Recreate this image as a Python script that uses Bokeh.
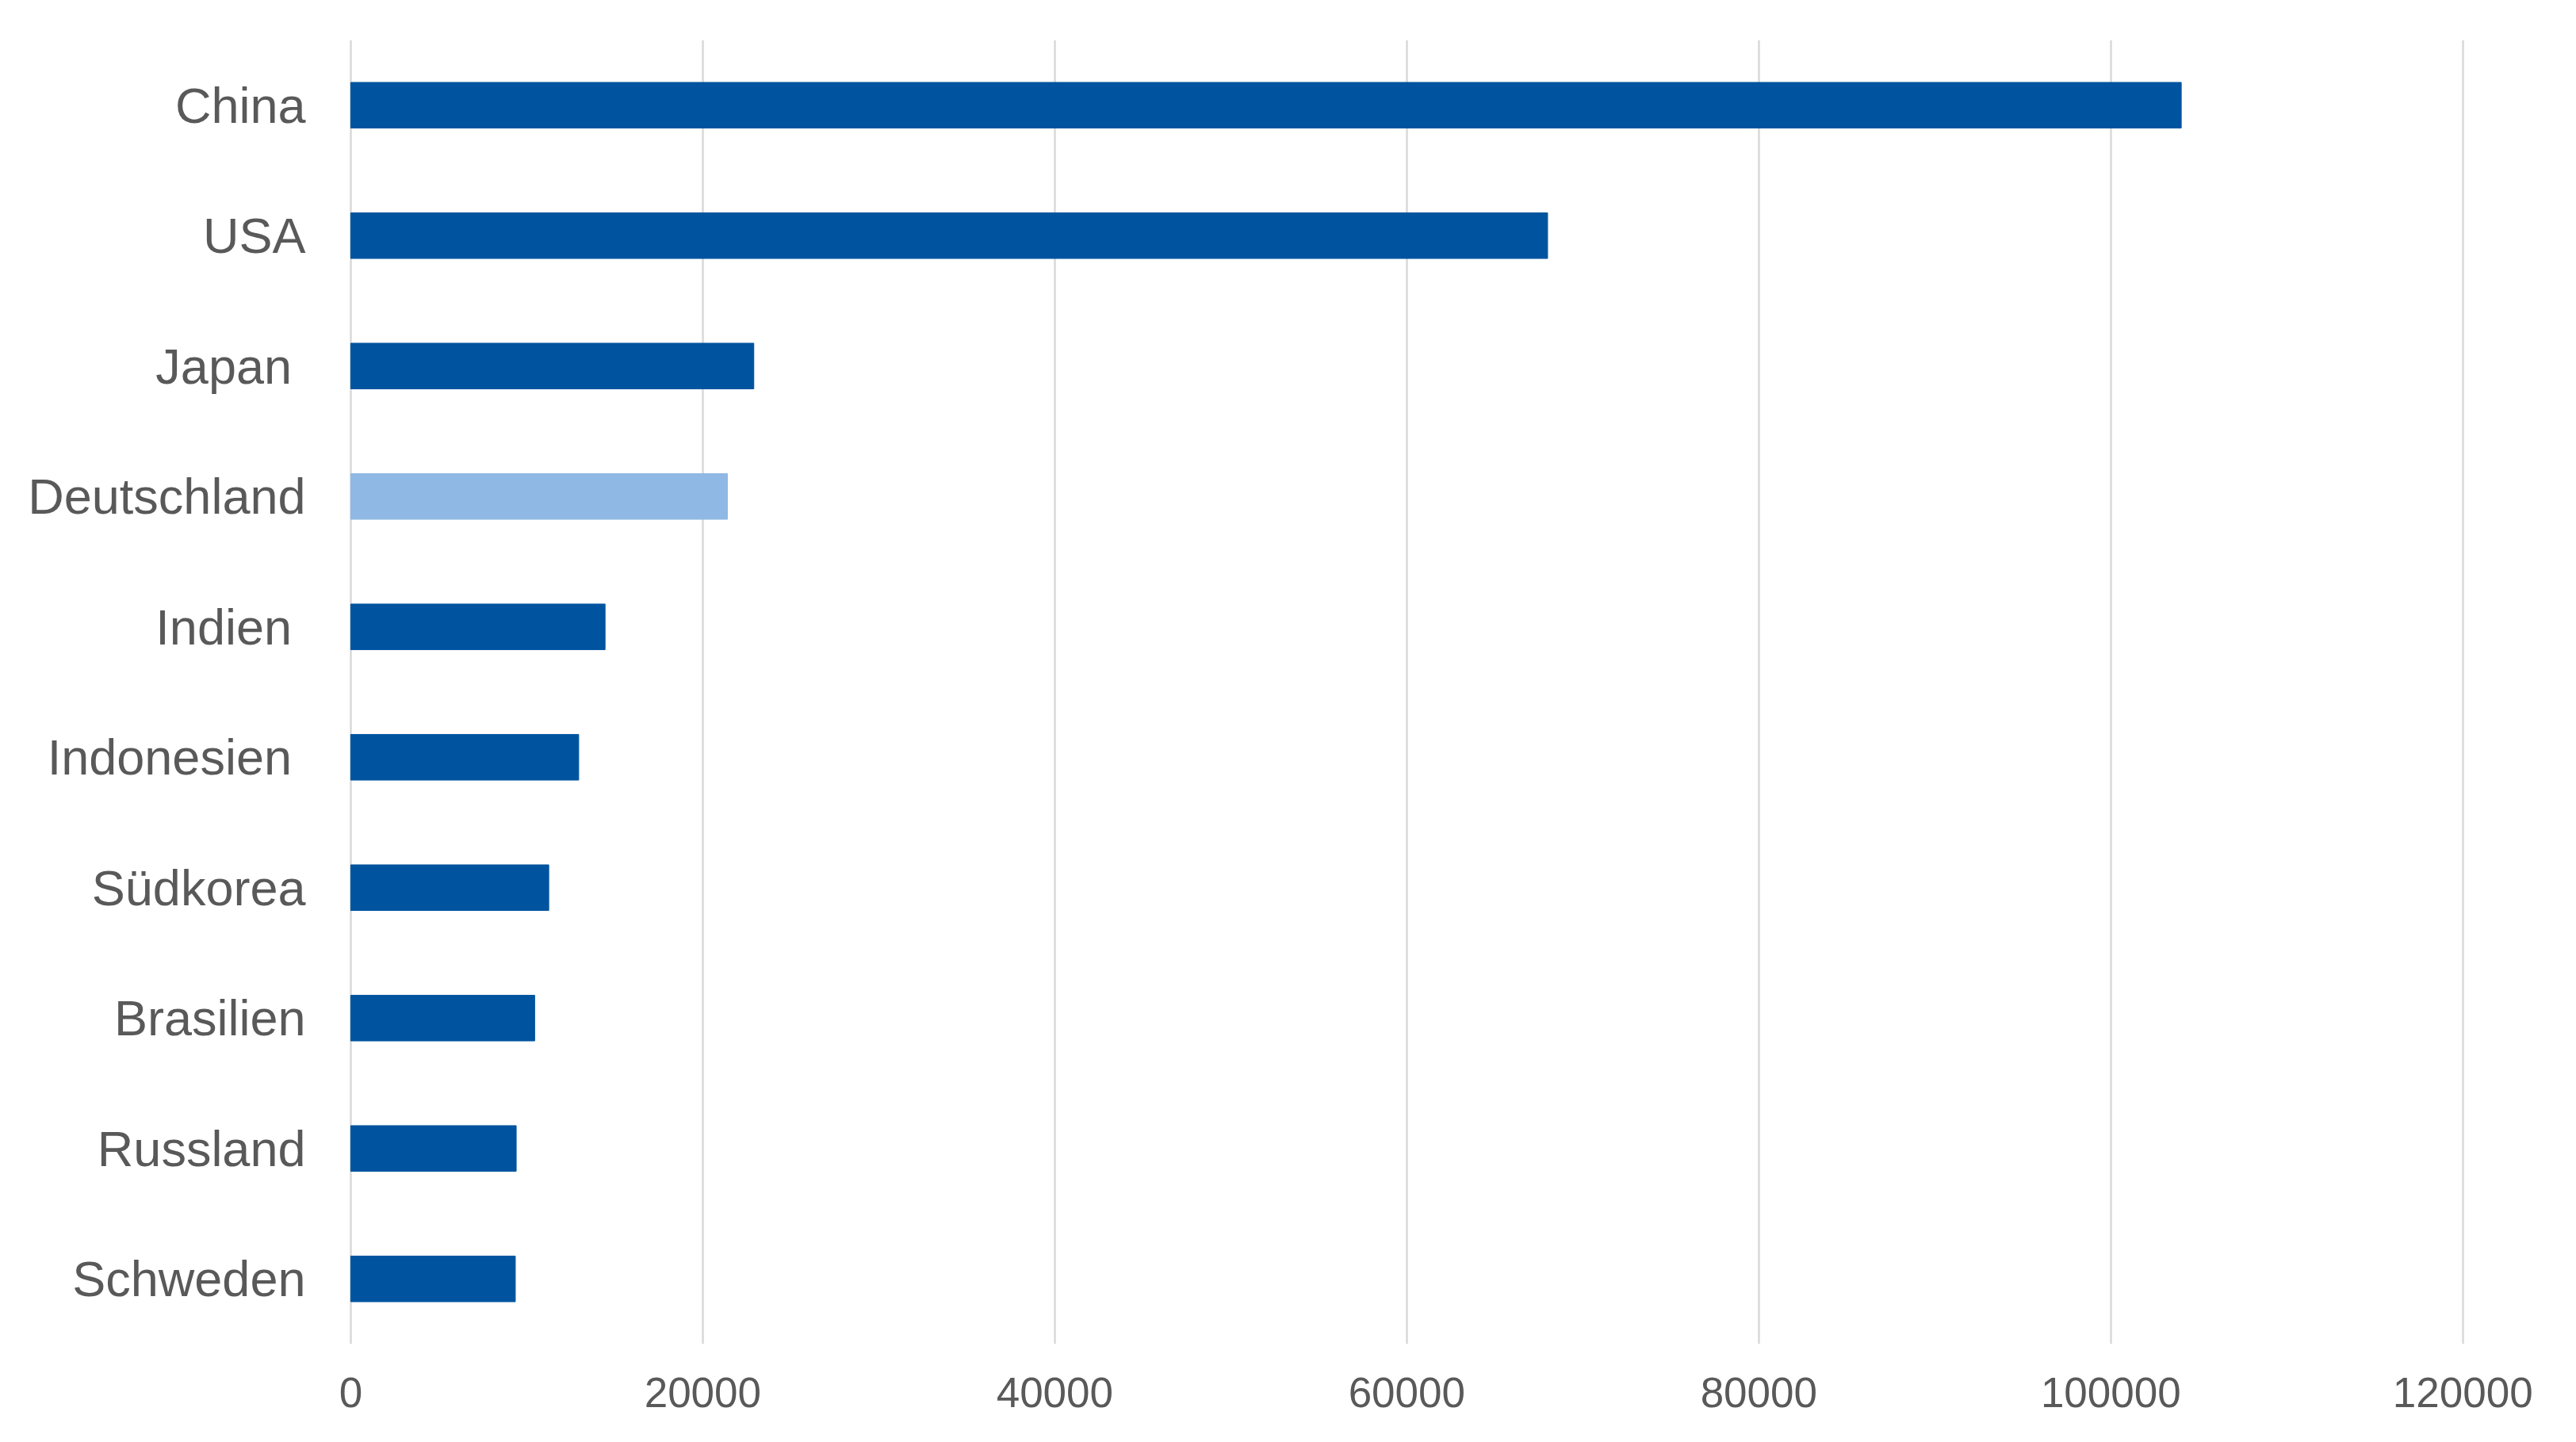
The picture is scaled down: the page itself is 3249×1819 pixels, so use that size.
from bokeh.plotting import figure
from bokeh.models import FactorRange, Range1d, FixedTicker, NumeralTickFormatter, ColumnDataSource
from bokeh.embed import file_html
from bokeh.resources import INLINE

countries = ["China", "USA", "Japan ", "Deutschland", "Indien ", "Indonesien ", "Südkorea", "Brasilien", "Russland", "Schweden"]
values = [104000, 68000, 22900, 21400, 14450, 12950, 11250, 10450, 9400, 9350]
colors = ["#00549F", "#00549F", "#00549F", "#8FB8E4", "#00549F", "#00549F", "#00549F", "#00549F", "#00549F", "#00549F"]
x_ticks = [0, 20000, 40000, 60000, 80000, 100000, 120000]

src = ColumnDataSource(dict(country=countries, value=values, color=colors))

p = figure(width=3233, height=1803, output_backend="svg", toolbar_location=None,
           y_range=FactorRange(factors=list(reversed(countries))),
           x_range=Range1d(-400, 121000),
           min_border_left=433, min_border_right=105, min_border_top=50, min_border_bottom=108)
p.hbar(y="country", right="value", left=0, height=0.35, color="color", source=src)

p.outline_line_color = None
p.background_fill_color = "white"
p.border_fill_color = "white"

p.ygrid.grid_line_color = None
p.xgrid.grid_line_color = "#D9D9D9"
p.xgrid.grid_line_width = 2.5
p.xgrid.ticker = FixedTicker(ticks=x_ticks)
p.xaxis.ticker = FixedTicker(ticks=x_ticks)
p.xaxis.formatter = NumeralTickFormatter(format="0")

for ax in (p.xaxis, p.yaxis):
    ax.axis_line_color = None
    ax.major_tick_line_color = None
    ax.minor_tick_line_color = None
    ax.major_tick_in = 0
    ax.major_tick_out = 0
    ax.major_label_text_font = "Liberation Sans"
    ax.major_label_text_color = "#595959"

p.xaxis.major_label_text_font_size = "53px"
p.xaxis.major_label_standoff = 42
p.yaxis.major_label_text_font_size = "63px"
p.yaxis.major_label_standoff = 48

open("out.html", "w").write(file_html(p, INLINE))
